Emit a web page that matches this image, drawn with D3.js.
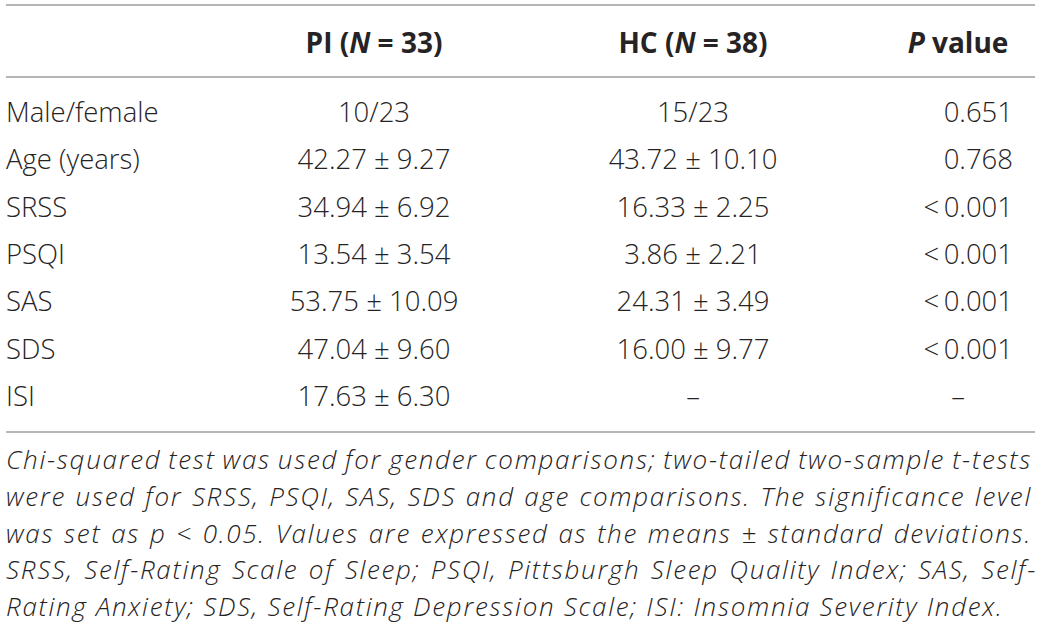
<!DOCTYPE html>
<html>
<head>
<meta charset="utf-8">
<script src="https://cdn.jsdelivr.net/npm/d3@7"></script>
<style>
  body { margin: 0; background: #fff; }
  svg { display: block; font-family: "Open Sans", "Liberation Sans", sans-serif; }
</style>
</head>
<body>
<svg id="tbl" width="1040" height="630"></svg>
<script>
// table contents
var rowLabels = ["Male/female", "Age (years)", "SRSS", "PSQI", "SAS", "SDS", "ISI"];
var piMale = 10, piFemale = 23, hcMale = 15, hcFemale = 23;
var piMean = [null, 42.27, 34.94, 13.54, 53.75, 47.04, 17.63];
var piSd   = [null, 9.27, 6.92, 3.54, 10.09, 9.60, 6.30];
var hcMean = [null, 43.72, 16.33, 3.86, 24.31, 16.00, null];
var hcSd   = [null, 10.10, 2.25, 2.21, 3.49, 9.77, null];
var pValues = [0.651, 0.768, 0.001, 0.001, 0.001, 0.001, null];
var pBelow  = [false, false, true, true, true, true, false];
var piN = 33, hcN = 38;

var footnote = [
    "Chi-squared test was used for gender comparisons; two-tailed two-sample t-tests",
    "were used for SRSS, PSQI, SAS, SDS and age comparisons. The significance level",
    "was set as p < 0.05. Values are expressed as the means \u00b1 standard deviations.",
    "SRSS, Self-Rating Scale of Sleep; PSQI, Pittsburgh Sleep Quality Index; SAS, Self-",
    "Rating Anxiety; SDS, Self-Rating Depression Scale; ISI: Insomnia Severity Index."
];

var svg = d3.select("#tbl"),
    left = 6, right = 1035,
    ink = "#262324", rule = "#9d9d9d";

var fmt = d3.format(".2f"), fmtP = d3.format(".3f");

var col = d3.scaleOrdinal()
    .domain(["label", "PI", "HC", "P"])
    .range([left, 374, 693, 958]);

var y = d3.scalePoint()
    .domain(rowLabels)
    .range([122, 406]);

var footY = d3.scaleLinear().domain([0, 4]).range([469, 616]);

// horizontal rules
[5, 77, 432].forEach(function(ry) {
    svg.append("line")
        .attr("x1", left).attr("x2", right)
        .attr("y1", ry).attr("y2", ry)
        .attr("stroke", rule)
        .attr("stroke-width", 1.6);
});

// header
var head = svg.append("g")
    .attr("font-size", 28)
    .attr("font-weight", 700)
    .attr("fill", ink)
    .attr("text-anchor", "middle");

var h1 = head.append("text").attr("x", col("PI")).attr("y", 53);
h1.append("tspan").text("PI (");
h1.append("tspan").attr("font-style", "italic").text("N");
h1.append("tspan").text(" = " + piN + ")");

var h2 = head.append("text").attr("x", col("HC")).attr("y", 53);
h2.append("tspan").text("HC (");
h2.append("tspan").attr("font-style", "italic").text("N");
h2.append("tspan").text(" = " + hcN + ")");

var h3 = head.append("text").attr("x", col("P")).attr("y", 53);
h3.append("tspan").attr("font-style", "italic").text("P");
h3.append("tspan").text(" value");

// body rows
var body = svg.append("g")
    .attr("font-size", 27.5)
    .attr("font-weight", 300)
    .attr("fill", ink);

var rows = body.selectAll("g.row")
    .data(rowLabels)
    .enter().append("g")
    .attr("class", "row")
    .attr("transform", function(d) { return "translate(0," + y(d) + ")"; });

rows.append("text")
    .attr("x", col("label"))
    .text(function(d) { return d; });

function cell(mean, sd, i, ratio) {
    if (i == 0) return ratio;
    if (mean[i] == null) return "\u2013";
    return fmt(mean[i]) + " \u00b1 " + fmt(sd[i]);
}

rows.append("text")
    .attr("x", col("PI"))
    .attr("text-anchor", "middle")
    .text(function(d, i) { return cell(piMean, piSd, i, piMale + "/" + piFemale); });

rows.append("text")
    .attr("x", col("HC"))
    .attr("text-anchor", "middle")
    .text(function(d, i) { return cell(hcMean, hcSd, i, hcMale + "/" + hcFemale); });

rows.append("text")
    .attr("x", function(d, i) { return pValues[i] == null ? col("P") : 1013; })
    .attr("text-anchor", function(d, i) { return pValues[i] == null ? "middle" : "end"; })
    .text(function(d, i) {
        if (pValues[i] == null) return "\u2013";
        return (pBelow[i] ? "<\u2009" : "") + fmtP(pValues[i]);
    });

// footnote: a little tracking so the last line runs to x=1002,
// the other lines justified to the right edge by word spacing
var foot = svg.append("g")
    .attr("font-size", 26)
    .attr("font-weight", 300)
    .attr("font-style", "italic")
    .attr("fill", ink);

var lines = foot.selectAll("text")
    .data(footnote)
    .enter().append("text")
    .attr("x", left)
    .attr("y", function(d, i) { return footY(i); })
    .text(function(d) { return d; });

var lastNode = lines.nodes()[footnote.length - 1],
    lastText = footnote[footnote.length - 1],
    tracking = (1002 - left - lastNode.getComputedTextLength()) / (lastText.length - 1);
lines.attr("letter-spacing", tracking);

lines.each(function(d, i) {
    if (i == footnote.length - 1) return;
    var natural = this.getComputedTextLength(),
        gaps = d.split(" ").length - 1,
        target = (i == 3 ? 1037 : 1032) - left;
    d3.select(this).attr("word-spacing", (target - natural) / gaps);
});
</script>
</body>
</html>
